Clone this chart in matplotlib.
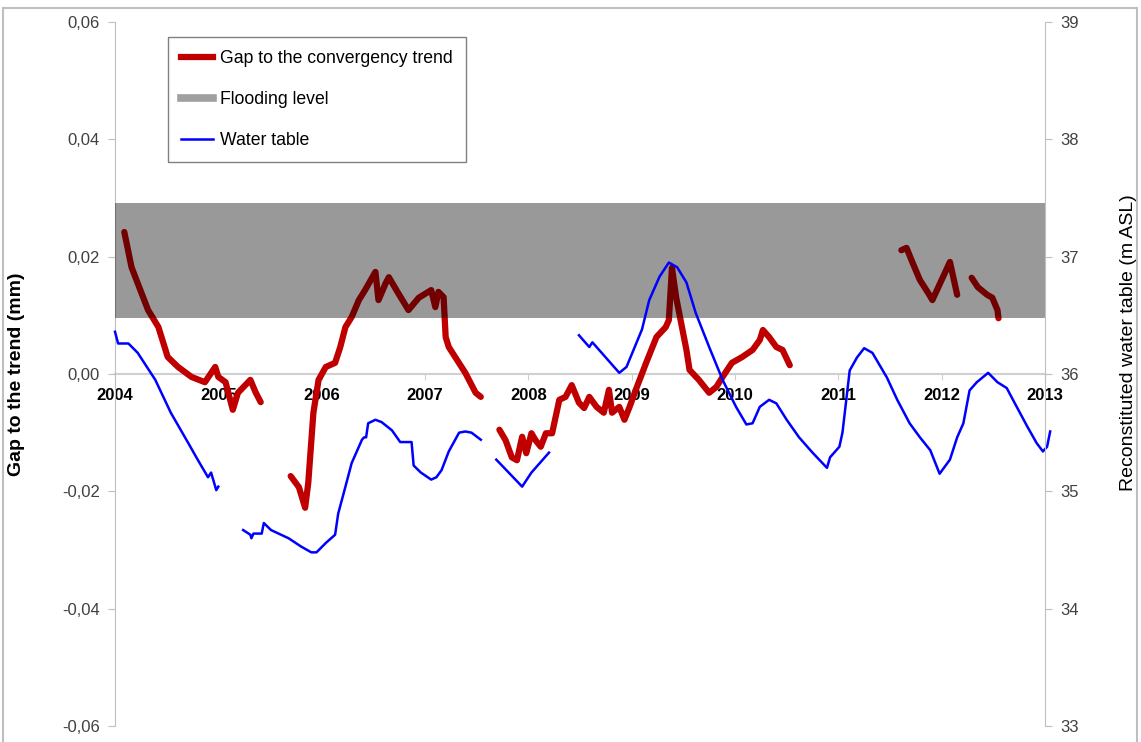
import numpy as np
import matplotlib.pyplot as plt
from matplotlib.lines import Line2D
from matplotlib.patches import Rectangle
from matplotlib.ticker import FuncFormatter

plt.rcParams['font.family'] = ['Liberation Sans', 'DejaVu Sans']

# gap to the convergency trend (mm), left axis - pieces separated by gaps in the record
gap_t1 = [2004.09, 2004.16, 2004.32, 2004.42, 2004.51, 2004.61, 2004.74, 2004.87, 2004.97, 2005.00,
          2005.07, 2005.14, 2005.19, 2005.31, 2005.36, 2005.41]
gap_v1 = [0.0242, 0.0182, 0.0109, 0.0080, 0.0029, 0.0012, -0.0005, -0.0014, 0.0012, -0.0005,
          -0.0014, -0.0061, -0.0032, -0.0010, -0.0031, -0.0048]

gap_t2 = [2005.70, 2005.78, 2005.84, 2005.87, 2005.92, 2005.97, 2006.04, 2006.13, 2006.18, 2006.23,
          2006.29, 2006.36, 2006.42, 2006.52, 2006.55, 2006.62, 2006.65, 2006.74, 2006.84, 2006.94,
          2007.06, 2007.10, 2007.13, 2007.18, 2007.20, 2007.23, 2007.39, 2007.49, 2007.54]
gap_v2 = [-0.0174, -0.0193, -0.0228, -0.0186, -0.0066, -0.0010, 0.0012, 0.0019, 0.0046, 0.0080,
          0.0097, 0.0126, 0.0143, 0.0174, 0.0126, 0.0155, 0.0165, 0.0138, 0.0109, 0.0130,
          0.0143, 0.0114, 0.0140, 0.0131, 0.0063, 0.0046, 0.0002, -0.0032, -0.0039]

gap_t3 = [2007.72, 2007.78, 2007.84, 2007.89, 2007.94, 2007.98, 2008.03, 2008.07, 2008.12, 2008.17,
          2008.23, 2008.30, 2008.36, 2008.42, 2008.49, 2008.54, 2008.59, 2008.66, 2008.73, 2008.78,
          2008.81, 2008.88, 2008.93, 2008.98, 2009.04, 2009.14, 2009.24, 2009.33, 2009.36, 2009.39,
          2009.43, 2009.53, 2009.56, 2009.65, 2009.75, 2009.82, 2009.88, 2009.97, 2010.07, 2010.17,
          2010.24, 2010.27, 2010.33, 2010.40, 2010.46, 2010.53]
gap_v3 = [-0.0095, -0.0113, -0.0142, -0.0147, -0.0107, -0.0135, -0.0101, -0.0113, -0.0124, -0.0101,
          -0.0101, -0.0044, -0.0039, -0.0019, -0.0049, -0.0058, -0.0039, -0.0056, -0.0066, -0.0027,
          -0.0066, -0.0056, -0.0078, -0.0056, -0.0027, 0.0019, 0.0063, 0.0080, 0.0092, 0.0181,
          0.0131, 0.0041, 0.0007, -0.0010, -0.0032, -0.0022, -0.0005, 0.0019, 0.0029, 0.0041,
          0.0058, 0.0075, 0.0063, 0.0046, 0.0041, 0.0015]

gap_t4 = [2011.61, 2011.66, 2011.72, 2011.79, 2011.87, 2011.91, 2012.08, 2012.15]
gap_v4 = [0.0211, 0.0215, 0.0189, 0.0160, 0.0138, 0.0126, 0.0191, 0.0135]

gap_t5 = [2012.29, 2012.35, 2012.44, 2012.49, 2012.54, 2012.55]
gap_v5 = [0.0164, 0.0148, 0.0135, 0.0130, 0.0109, 0.0095]

# reconstituted water table (m ASL), right axis
wt_t1 = [2004.00, 2004.03, 2004.13, 2004.22, 2004.39, 2004.54, 2004.71, 2004.80, 2004.90, 2004.93,
         2004.98, 2005.00]
wt_v1 = [36.36, 36.26, 36.26, 36.18, 35.95, 35.67, 35.41, 35.27, 35.12, 35.16, 35.01, 35.04]

wt_t2 = [2005.24, 2005.31, 2005.32, 2005.34, 2005.42, 2005.44, 2005.51, 2005.68, 2005.80, 2005.90,
         2005.95, 2006.04, 2006.13, 2006.16, 2006.23, 2006.29, 2006.39, 2006.41, 2006.43, 2006.45,
         2006.52, 2006.58, 2006.68, 2006.76, 2006.87, 2006.89, 2006.96, 2007.06, 2007.11, 2007.16,
         2007.23, 2007.33, 2007.39, 2007.45, 2007.54]
wt_v2 = [34.67, 34.63, 34.60, 34.64, 34.64, 34.73, 34.67, 34.60, 34.53, 34.48,
         34.48, 34.56, 34.63, 34.81, 35.04, 35.24, 35.44, 35.46, 35.46, 35.58,
         35.61, 35.59, 35.52, 35.42, 35.42, 35.22, 35.16, 35.10, 35.12, 35.18,
         35.34, 35.50, 35.51, 35.50, 35.44]

wt_t3 = [2007.69, 2007.81, 2007.94, 2008.03, 2008.20]
wt_v3 = [35.27, 35.16, 35.04, 35.16, 35.33]

wt_t4 = [2008.49, 2008.59, 2008.62, 2008.71, 2008.88, 2008.95, 2009.10, 2009.17, 2009.27, 2009.36,
         2009.44, 2009.53, 2009.62, 2009.75, 2009.88, 2010.01, 2010.11, 2010.17, 2010.24, 2010.33,
         2010.40, 2010.50, 2010.62, 2010.75, 2010.89, 2010.92, 2011.01, 2011.04, 2011.11, 2011.18,
         2011.25, 2011.33, 2011.47, 2011.57, 2011.69, 2011.79, 2011.89, 2011.98, 2012.08, 2012.15,
         2012.21, 2012.27, 2012.34, 2012.45, 2012.54, 2012.63, 2012.69, 2012.83, 2012.92, 2012.98,
         2013.02, 2013.05]
wt_v4 = [36.33, 36.23, 36.27, 36.18, 36.01, 36.06, 36.38, 36.63, 36.83, 36.95,
         36.91, 36.78, 36.52, 36.23, 35.95, 35.72, 35.57, 35.58, 35.72, 35.78,
         35.75, 35.61, 35.46, 35.33, 35.20, 35.29, 35.38, 35.50, 36.03, 36.14,
         36.22, 36.18, 35.97, 35.78, 35.58, 35.46, 35.35, 35.15, 35.27, 35.46,
         35.58, 35.86, 35.93, 36.01, 35.93, 35.88, 35.78, 35.55, 35.41, 35.34,
         35.38, 35.51]

# flooding level band, in left-axis units
flood_low, flood_high = 0.0095, 0.0292

years = list(range(2004, 2014))

gap_pieces = [(gap_t1, gap_v1), (gap_t2, gap_v2), (gap_t3, gap_v3), (gap_t4, gap_v4), (gap_t5, gap_v5)]
wt_pieces = [(wt_t1, wt_v1), (wt_t2, wt_v2), (wt_t3, wt_v3), (wt_t4, wt_v4)]

axis_gray = '#BFBFBF'
red = '#C00000'
blue = '#0000FF'

fig = plt.figure(figsize=(11.41, 7.42), dpi=100)
ax = fig.add_axes([115 / 1141, 16 / 742, 930 / 1141, 704 / 742])

for t, v in gap_pieces:
    ax.plot(t, v, color=red, lw=4.5, solid_capstyle='round', solid_joinstyle='round', zorder=2)

# band sits on top of the red curve (darkens it) but under the water table
ax.axhspan(flood_low, flood_high, color='black', alpha=0.4, lw=0, zorder=3)

ax.set_xlim(2004, 2013)
ax.set_ylim(-0.06, 0.06)
ax.set_yticks(np.arange(-0.06, 0.061, 0.02))
ax.yaxis.set_major_formatter(FuncFormatter(lambda v, p: f'{v:.2f}'.replace('.', ',').replace('-0,00', '0,00')))
ax.set_xticks(years)
ax.set_xticklabels([str(y) for y in years])

ax.spines['top'].set_visible(False)
ax.spines['right'].set_visible(False)
ax.spines['bottom'].set_position(('data', 0))
ax.spines['bottom'].set_color('#D0D0D0')
ax.spines['bottom'].set_linewidth(1.5)
ax.spines['bottom'].set_zorder(1)
ax.spines['left'].set_color(axis_gray)
ax.tick_params(axis='y', direction='out', length=5, color=axis_gray, labelsize=12, labelcolor='#404040', pad=6)
ax.tick_params(axis='x', direction='out', length=4, color='#D0D0D0', pad=6, labelsize=12, labelcolor='black')
for lab in ax.get_xticklabels():
    lab.set_fontweight('bold')

ax.set_ylabel('Gap to the trend (mm)', fontsize=14, fontweight='bold')
ax.yaxis.set_label_coords(-90 / 930, 0.5)

ax2 = ax.twinx()
for t, v in wt_pieces:
    ax2.plot(t, v, color=blue, lw=1.8, clip_on=False)
ax2.set_ylim(33, 39)
ax2.set_yticks(range(33, 40))
for s in ['top', 'left', 'bottom']:
    ax2.spines[s].set_visible(False)
ax2.spines['right'].set_color(axis_gray)
ax2.tick_params(axis='y', direction='out', length=5, color=axis_gray, labelsize=12, labelcolor='#404040', pad=6)
ax2.set_ylabel('Reconstituted water table (m ASL)', fontsize=14)
ax2.yaxis.set_label_coords(1 + 75 / 930, 0.545)

handles = [
    Line2D([], [], color=red, lw=4.5),
    Line2D([], [], color='#A0A0A0', lw=5.5),
    Line2D([], [], color=blue, lw=1.8),
]
labels = ['Gap to the convergency trend', 'Flooding level', 'Water table']
leg = fig.legend(handles, labels, loc='upper left', bbox_to_anchor=(168 / 1141, 1 - 37 / 742),
                 bbox_transform=fig.transFigure, borderaxespad=0, fontsize=12.7, frameon=True,
                 fancybox=False, edgecolor='#808080', framealpha=1, handlelength=1.8,
                 handletextpad=0.4, labelspacing=1.35, borderpad=0.75)
leg.get_frame().set_linewidth(1.0)

# light frame around the whole chart
fig.patches.append(Rectangle((3 / 1141, -0.01), 1134 / 1141, 1 - 8 / 742 + 0.01,
                             transform=fig.transFigure, fill=False, ec=axis_gray, lw=1.5))

fig.savefig('out.png', dpi=100)
